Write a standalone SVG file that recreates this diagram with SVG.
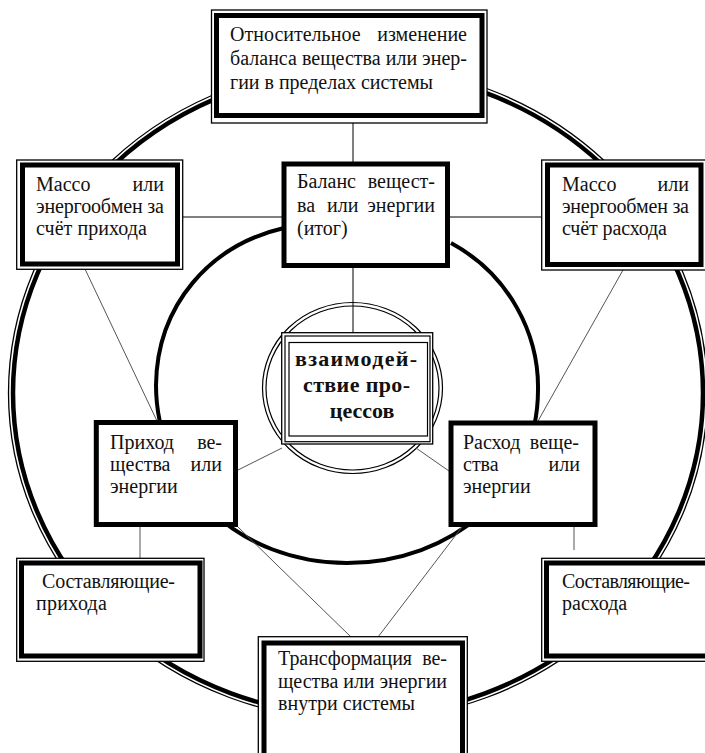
<svg xmlns="http://www.w3.org/2000/svg" width="705" height="753" viewBox="0 0 705 753">
<defs>
<style>
.bg{fill:#fff}
.thin{fill:#fff;stroke:#000;stroke-width:1.3}
.thin2{fill:none;stroke:#000;stroke-width:1.2}
.thick{fill:#fff;stroke:#000;stroke-width:5}
.ring{fill:none;stroke:#000}
.conn{stroke:#000;stroke-width:1;fill:none}
.gray{stroke:#555;stroke-width:1;fill:none}
.t{font-family:"Liberation Serif","Times New Roman",serif;font-size:20px;fill:#111}
.b{font-family:"Liberation Serif","Times New Roman",serif;font-size:22px;font-weight:bold;fill:#111}
.e{text-anchor:end}
.m{text-anchor:middle}
</style>
</defs>
<rect class="bg" x="0" y="0" width="705" height="753"/>

<g id="rings">
  <ellipse class="ring" cx="358" cy="393" rx="345" ry="323" stroke-width="4.5"/>
  <ellipse class="ring" cx="358" cy="393" rx="349.5" ry="327.5" stroke-width="1.3"/>
  <path class="ring" stroke-width="4" d="M284,228 C210,245 157,305 156,385 C156,485 240,563 347,563 C452,563 538,490 538,390 C539,335 510,275 451,243"/>
  <ellipse class="ring" cx="352.5" cy="388" rx="90" ry="85.5" stroke-width="1.2"/>
  <ellipse class="ring" cx="352.5" cy="388" rx="86.5" ry="82" stroke-width="1.2"/>
</g>

<g id="connectors">
  <line class="conn" x1="353" y1="123" x2="353" y2="163"/>
  <line class="conn" x1="353" y1="266" x2="353" y2="342"/>
  <line class="conn" x1="183" y1="217" x2="282" y2="217"/>
  <line class="conn" x1="450" y1="217" x2="542" y2="217"/>
  <line class="gray" x1="85" y1="269" x2="157" y2="421"/>
  <line class="gray" x1="623" y1="270" x2="538" y2="421"/>
  <line class="gray" x1="238" y1="470" x2="282" y2="448"/>
  <line class="gray" x1="449" y1="471" x2="416" y2="448"/>
  <line class="gray" x1="140" y1="527" x2="140" y2="558"/>
  <line class="gray" x1="574" y1="527" x2="574" y2="550"/>
  <line class="gray" x1="238" y1="527" x2="351" y2="637"/>
  <line class="gray" x1="462" y1="527" x2="378" y2="637"/>
</g>

<g id="node-top">
  <rect class="thin" x="211.5" y="10" width="275.5" height="113"/>
  <rect class="thick" x="216.5" y="15.5" width="265.5" height="100" stroke-width="5.5"/>
  <text class="t" x="230" y="41">Относительное</text>
  <text class="t e" x="467" y="41">изменение</text>
  <text class="t" x="230" y="65" textLength="237" lengthAdjust="spacing">баланса вещества или энер-</text>
  <text class="t" x="230" y="89" textLength="203" lengthAdjust="spacing">гии в пределах системы</text>
</g>

<g id="node-left-top">
  <rect class="thin" x="16.7" y="160" width="166" height="109.3"/>
  <rect class="thick" x="22.5" y="165" width="155" height="99"/>
  <text class="t" x="36" y="191">Массо</text>
  <text class="t e" x="164" y="191">или</text>
  <text class="t" x="36" y="213" textLength="128" lengthAdjust="spacing">энергообмен за</text>
  <text class="t" x="36" y="235" textLength="111" lengthAdjust="spacing">счёт прихода</text>
</g>

<g id="node-balance">
  <rect class="thick" x="284" y="164" width="163.5" height="101.5"/>
  <text class="t" x="297" y="188">Баланс</text>
  <text class="t e" x="435" y="188">вещест-</text>
  <text class="t" x="297" y="212">ва</text>
  <text class="t" x="327" y="212">или</text>
  <text class="t e" x="435" y="212">энергии</text>
  <text class="t" x="297" y="235">(итог)</text>
</g>

<g id="node-right-top">
  <rect class="thin" x="541.7" y="160" width="170" height="110"/>
  <rect class="thick" x="547.5" y="165" width="153.5" height="99.5"/>
  <text class="t" x="562" y="191">Массо</text>
  <text class="t e" x="689" y="191">или</text>
  <text class="t" x="562" y="213" textLength="127" lengthAdjust="spacing">энергообмен за</text>
  <text class="t" x="562" y="235" textLength="105" lengthAdjust="spacing">счёт расхода</text>
</g>

<g id="node-center">
  <rect class="thin" x="281.7" y="332.7" width="151" height="111.3" stroke-width="1.2"/>
  <rect class="thin2" x="285" y="336" width="145" height="105.7"/>
  <rect class="thin2" x="289" y="342.5" width="138.5" height="93.5" stroke-width="2"/>
  <text class="b" x="295" y="366" textLength="122" lengthAdjust="spacing">взаимодей-</text>
  <text class="b" x="303" y="392" textLength="107" lengthAdjust="spacing">ствие про-</text>
  <text class="b m" x="362" y="418">цессов</text>
</g>

<g id="node-income">
  <rect class="thick" x="96.3" y="422.5" width="139.2" height="102" stroke-width="5.5"/>
  <text class="t" x="110" y="449">Приход</text>
  <text class="t e" x="222" y="449">ве-</text>
  <text class="t" x="110" y="471">щества</text>
  <text class="t e" x="222" y="471">или</text>
  <text class="t" x="110" y="493">энергии</text>
</g>

<g id="node-outcome">
  <rect class="thick" x="451" y="423" width="144" height="101.5" stroke-width="5.5"/>
  <text class="t" x="463" y="449">Расход</text>
  <text class="t e" x="579" y="449">веще-</text>
  <text class="t" x="463" y="471">ства</text>
  <text class="t e" x="580" y="471">или</text>
  <text class="t" x="463" y="493">энергии</text>
</g>

<g id="node-income-parts">
  <rect class="thin" x="16.7" y="558.3" width="187.3" height="103"/>
  <rect class="thick" x="21.5" y="563" width="178.5" height="93"/>
  <text class="t" x="42" y="588" textLength="133" lengthAdjust="spacing">Составляющие-</text>
  <text class="t" x="36" y="610" textLength="71" lengthAdjust="spacing">прихода</text>
</g>

<g id="node-outcome-parts">
  <rect class="thin" x="541.7" y="558.3" width="175" height="103"/>
  <rect class="thick" x="546.5" y="563" width="165" height="93"/>
  <text class="t" x="562" y="588" textLength="128" lengthAdjust="spacing">Составляющие-</text>
  <text class="t" x="562" y="610">расхода</text>
</g>

<g id="node-transform">
  <rect class="thin" x="258.3" y="636.7" width="209" height="130"/>
  <rect class="thick" x="264" y="643" width="198.5" height="120"/>
  <text class="t" x="278" y="665" textLength="134" lengthAdjust="spacing">Трансформация</text>
  <text class="t e" x="447" y="665">ве-</text>
  <text class="t" x="278" y="688" textLength="169" lengthAdjust="spacing">щества или энергии</text>
  <text class="t" x="278" y="710" textLength="137" lengthAdjust="spacing">внутри системы</text>
</g>
</svg>
